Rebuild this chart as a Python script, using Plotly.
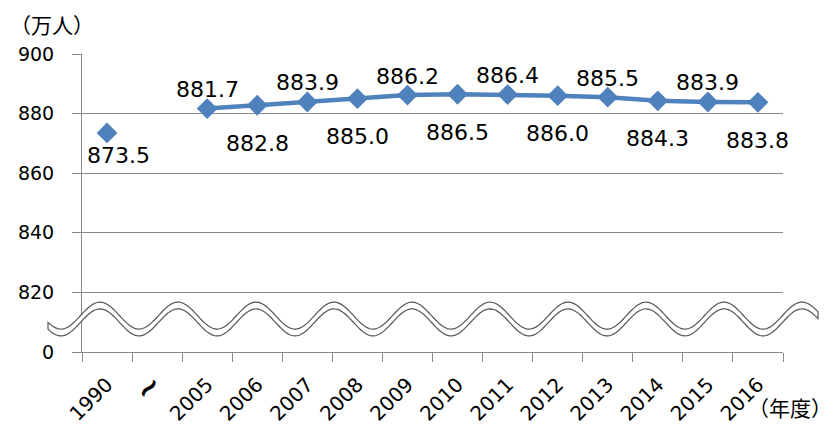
import numpy as np
import plotly.graph_objects as go

# ---- data ----
categories = ["1990", "~", "2005", "2006", "2007", "2008", "2009", "2010",
              "2011", "2012", "2013", "2014", "2015", "2016"]
population = [873.5, None, 881.7, 882.8, 883.9, 885.0, 886.2, 886.5,
              886.4, 886.0, 885.5, 884.3, 883.9, 883.8]
label_side = ["below", None, "above", "below", "above", "below", "above", "below",
              "above", "below", "above", "below", "above", "below"]
y_tickvals = [800, 820, 840, 860, 880, 900]
y_ticktext = ["0", "820", "840", "860", "880", "900"]

W, H = 835, 426
L, R, T, B = 82, 52, 54, 74
PW, PH = W - L - R, H - T - B

BLUE = "#4F81BD"
GRID = "#8a8a8a"
FONT = "DejaVu Sans"
CJK = "Noto Sans CJK JP"

fig = go.Figure()
fig.add_trace(go.Scatter(
    x=categories, y=population, mode="lines+markers",
    line=dict(color=BLUE, width=4.5),
    marker=dict(symbol="diamond", size=16, color=BLUE),
    connectgaps=False, hoverinfo="skip", showlegend=False,
))

annotations = []
for i, (v, s) in enumerate(zip(population, label_side)):
    if v is None:
        continue
    if i == 0:
        ys, xs = -23, 11
    elif s == "above":
        ys, xs = 19, 0
    else:
        ys, xs = -38, 0
    annotations.append(dict(
        x=i, y=v, xref="x", yref="y", text=f"{v:.1f}", showarrow=False,
        xanchor="center", yanchor="middle", yshift=ys, xshift=xs,
        font=dict(family=FONT, size=22, color="black"),
    ))

def px2paper(px, py):
    return (px - L) / PW, 1 - (py - T) / PH

# axis unit labels
annotations.append(dict(
    x=px2paper(8, 0)[0], y=px2paper(0, 24)[1], xref="paper", yref="paper",
    text="（万人）", showarrow=False, xanchor="left", yanchor="middle",
    font=dict(family=CJK, size=21, color="black"),
))
annotations.append(dict(
    x=px2paper(834, 0)[0], y=px2paper(0, 407)[1], xref="paper", yref="paper",
    text="（年度）", showarrow=False, xanchor="right", yanchor="middle",
    font=dict(family=CJK, size=21, color="black"),
))

# wavy axis-break decoration
xs_px = np.linspace(48, 818, 400)
yc = 319 - 13.5 * np.cos(2 * np.pi * (xs_px - 100) / 78)
upper = yc - 3.4
lower = yc + 3.4
pts = [px2paper(x, y) for x, y in zip(xs_px, upper)] + \
      [px2paper(x, y) for x, y in zip(xs_px[::-1], lower[::-1])]
path = "M " + " L ".join(f"{a:.5f},{b:.5f}" for a, b in pts) + " Z"
shapes = [dict(type="path", path=path, xref="paper", yref="paper",
               fillcolor="white", line=dict(color="#555555", width=1.2),
               layer="above")]

x_ticktext = [('<span style="font-size:30px;font-weight:bold">~</span>' if c == "~" else c)
              for c in categories]

fig.update_layout(
    width=W, height=H,
    margin=dict(l=L, r=R, t=T, b=B, pad=0, autoexpand=False),
    plot_bgcolor="white", paper_bgcolor="white",
    annotations=annotations, shapes=shapes,
    xaxis=dict(
        type="category", categoryorder="array", categoryarray=categories,
        tickmode="array", tickvals=categories, ticktext=x_ticktext,
        range=[-0.5, len(categories) - 0.5], automargin=False,
        tickson="boundaries", ticks="outside", ticklen=9, tickcolor=GRID,
        showline=True, linecolor=GRID, linewidth=1, showgrid=False,
        tickangle=-45, tickfont=dict(family=FONT, size=20, color="black"),
        ticklabelstandoff=12, zeroline=False,
    ),
    yaxis=dict(
        range=[800, 900], tickvals=y_tickvals, ticktext=y_ticktext,
        ticks="outside", ticklen=9, tickcolor=GRID, automargin=False,
        showline=True, linecolor=GRID, linewidth=1,
        showgrid=True, gridcolor=GRID, gridwidth=1, zeroline=False,
        tickfont=dict(family=FONT, size=19, color="black"),
        ticklabelstandoff=14,
    ),
)

fig.write_html(
    "out.html",
    config={"displayModeBar": False},
    post_script="document.body.style.margin='0';document.body.style.overflow='hidden';",
)
